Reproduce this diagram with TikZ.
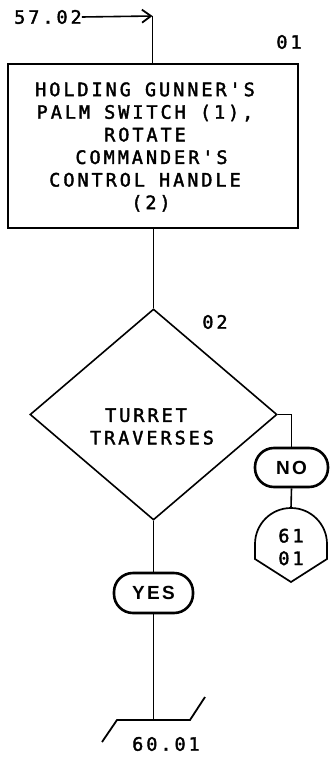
\documentclass[tikz,border=0pt]{standalone}
\usepackage{fontspec}
\setmainfont{Liberation Sans}
\newfontfamily\lf[LetterSpace=16,FakeBold=2]{DejaVu Sans Mono}
\newfontfamily\lfb[LetterSpace=12]{Liberation Sans Bold}
\usetikzlibrary{shapes.geometric,arrows.meta}
\tikzset{
  ln/.style={line width=1.6pt, black},
  txt/.style={font=\lf\fontsize{18.5}{22.6}\selectfont, inner sep=0pt, align=center},
  stepbox/.style={draw, line width=1.8pt, minimum width=290pt, minimum height=164pt, inner sep=0pt},
  decbox/.style={draw, diamond, line width=1.6pt, minimum width=247pt, minimum height=211pt, inner sep=0pt},
  answer/.style={draw, line width=2.6pt, rounded corners=19pt, inner sep=0pt, font=\lfb\fontsize{19}{20}\selectfont},
}
\begin{document}
\begin{tikzpicture}[x=1pt,y=-1pt]
\useasboundingbox (0,0) rectangle (330,757);
% start reference
\node[txt, anchor=west] (t5702) at (14,17) {57.02};
\coordinate (c1) at (152.5,16);
\node[stepbox] (box) at (153,146) {};
\node[txt] (boxtext) at (145,147) {HOLDING GUNNER'S\\PALM SWITCH (1),\\ROTATE\hspace*{12pt}\\\hspace*{13pt}COMMANDER'S\\CONTROL HANDLE\\\hspace*{12pt}(2)};
\node[txt] (n01) at (289,42) {01};
\draw[ln, -{Straight Barb[length=9pt,width=13pt,line width=1.8pt]}] (t5702.east) -- (c1);
\draw[ln] (c1) -- (box.north -| c1);
% decision
\node[decbox] (dec) at (153.5,414.5) {};
\node[txt] (dectext) at (152,426.5) {TURRET\hspace*{12pt}\\TRAVERSES};
\node[txt] (n02) at (215,322) {02};
\draw[ln] (box.south -| dec.north) -- (dec.north);
% NO branch
\node[answer, minimum width=73pt, minimum height=39pt] (no) at (291.5,467.5) {NO};
\coordinate (cr) at (291.5,414.5);
\draw[ln] (dec.east) -- (cr) -- (no.north);
% off-page connector
\coordinate (opc) at (291,508);
\draw[line width=1.7pt] (255,544) arc[start angle=180, end angle=0, radius=36pt] -- (327,559) -- (291,582) -- (255,559) -- cycle;
\node[txt] (opctext) at (291,547) {61\\01};
\draw[ln] (no.south) -- (opc);
% YES branch
\node[answer, minimum width=79pt, minimum height=40pt] (yes) at (153.5,593) {YES};
\draw[ln] (dec.south) -- (yes.north);
\coordinate (term) at (153.5,720);
\draw[ln] (yes.south) -- (term);
\coordinate (tl) at (117,720);
\coordinate (tr) at (190,720);
\draw[line width=1.8pt] (102,742) -- (tl) -- (tr) -- (205,697);
\node[txt] (n6001) at (166,744) {60.01};
\end{tikzpicture}
\end{document}
